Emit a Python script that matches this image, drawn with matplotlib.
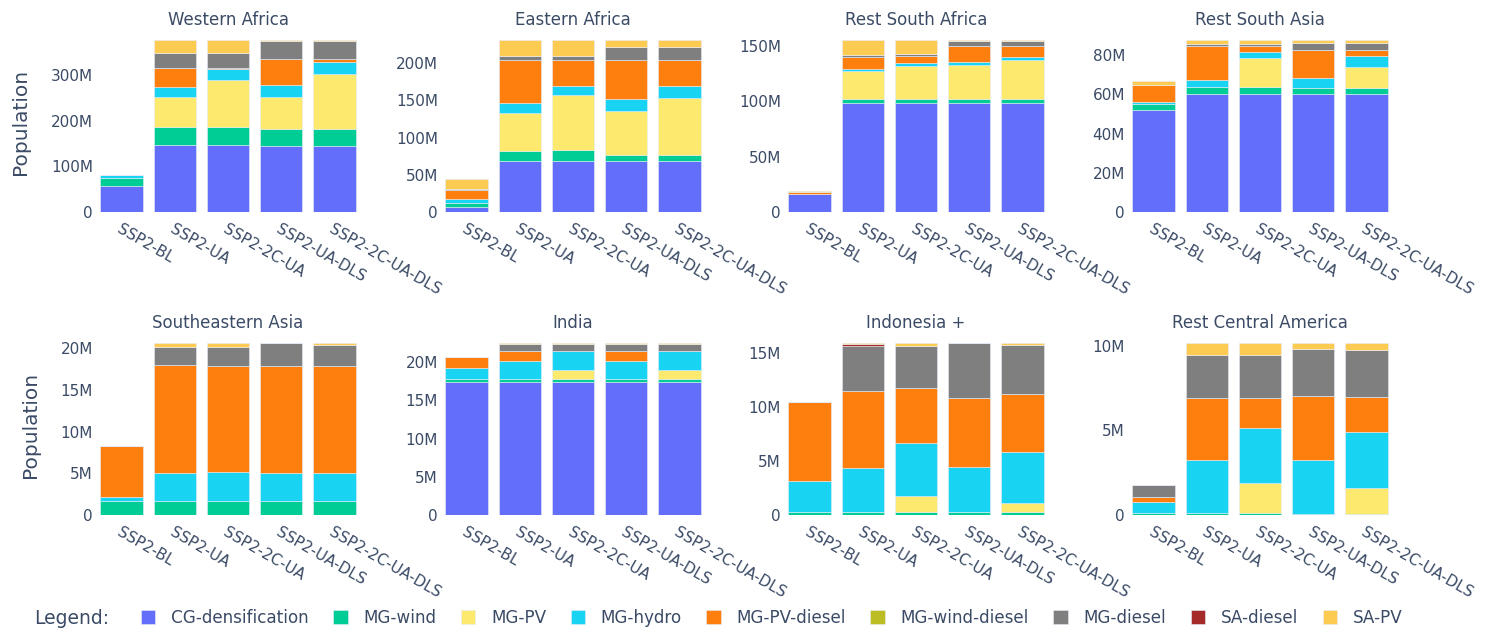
import matplotlib
matplotlib.use("Agg")
import matplotlib.pyplot as plt
from matplotlib.ticker import MultipleLocator, FuncFormatter
import numpy as np

plt.rcParams['font.family'] = ['DejaVu Sans']

scenarios = ["SSP2-BL", "SSP2-UA", "SSP2-2C-UA", "SSP2-UA-DLS", "SSP2-2C-UA-DLS"]
technologies = ["CG-densification", "MG-wind", "MG-PV", "MG-hydro", "MG-PV-diesel",
                "MG-wind-diesel", "MG-diesel", "SA-diesel", "SA-PV"]
colors = ["#636EFA", "#00CC96", "#FEE96F", "#19D3F3", "#FF7F0E",
          "#BCBD22", "#7F7F7F", "#A52A2A", "#FECB52"]

# population in millions, one row per technology, one column per scenario
western_africa = [
    [56, 146, 146, 145, 145],
    [19, 39, 39, 36, 36],
    [0, 67, 103, 71, 120],
    [6, 21, 24, 25, 26],
    [0, 43, 3, 58, 7],
    [0, 0, 0, 0, 0],
    [0, 32, 33, 40, 41],
    [0, 0, 0, 0, 0],
    [0, 29, 29, 2, 2],
]
eastern_africa = [
    [7, 68, 68, 68, 68],
    [4.5, 14, 15, 8.4, 8.4],
    [0.5, 51.5, 74, 59.3, 76.4],
    [5, 12.5, 12.5, 15.7, 16.6],
    [12.5, 58.5, 35, 53, 35],
    [0, 0, 0, 0, 0],
    [1.5, 4.5, 4.5, 17, 17],
    [0, 0, 0, 0, 0],
    [13, 22.5, 22.5, 10, 10],
]
rest_south_africa = [
    [16.7, 98.5, 98.5, 98.5, 98.5],
    [0, 3.9, 3.9, 3.9, 3.9],
    [0, 25.5, 30, 30.9, 35.5],
    [0, 1.8, 2.4, 2.4, 2.4],
    [1.3, 10.6, 6.7, 14.9, 9.7],
    [0, 0, 0, 0, 0],
    [0, 2.1, 1.5, 3.9, 4.5],
    [0, 0, 0, 0, 0],
    [1.0, 13.6, 13, 1.5, 1.5],
]
rest_south_asia = [
    [52.3, 60.4, 60.4, 60.4, 60.4],
    [3, 3.4, 3.4, 2.9, 2.9],
    [0, 0, 14.8, 0, 10.7],
    [0.8, 3.4, 3.1, 5.3, 5.5],
    [8.5, 17.6, 3.1, 13.9, 3.0],
    [0, 0, 0, 0, 0],
    [0.3, 1.2, 1.2, 4, 4],
    [0, 0, 0, 0, 0],
    [1.8, 2, 2, 1.5, 1.5],
]
southeastern_asia = [
    [0, 0, 0, 0, 0],
    [1.64, 1.64, 1.64, 1.64, 1.64],
    [0, 0, 0, 0, 0],
    [0.56, 3.44, 3.48, 3.36, 3.44],
    [6.08, 12.92, 12.76, 12.88, 12.8],
    [0, 0, 0, 0, 0],
    [0, 2.2, 2.24, 2.72, 2.52],
    [0, 0, 0, 0, 0],
    [0, 0.5, 0.56, 0, 0.28],
]
india = [
    [17.34, 17.34, 17.34, 17.34, 17.34],
    [0.43, 0.43, 0.43, 0.43, 0.43],
    [0, 0, 1.23, 0, 1.14],
    [1.43, 2.4, 2.5, 2.4, 2.5],
    [1.4, 1.3, 0, 1.3, 0],
    [0, 0, 0, 0, 0],
    [0, 0.87, 0.87, 0.87, 0.96],
    [0, 0, 0, 0, 0],
    [0, 0.17, 0.17, 0.17, 0.17],
]
indonesia = [
    [0, 0, 0, 0, 0],
    [0.31, 0.31, 0.31, 0.31, 0.31],
    [0, 0, 1.45, 0, 0.83],
    [2.84, 4.08, 4.89, 4.17, 4.74],
    [7.35, 7.11, 5.1, 6.41, 5.32],
    [0, 0, 0, 0, 0],
    [0, 4.18, 3.93, 5.04, 4.57],
    [0, 0.15, 0, 0, 0],
    [0, 0.1, 0.31, 0, 0.22],
]
rest_central_america = [
    [0, 0, 0, 0, 0],
    [0.1, 0.14, 0.14, 0.05, 0.05],
    [0, 0, 1.77, 0, 1.53],
    [0.69, 3.11, 3.26, 3.2, 3.35],
    [0.29, 3.65, 1.77, 3.79, 2.07],
    [0, 0, 0, 0, 0],
    [0.7, 2.57, 2.53, 2.76, 2.76],
    [0, 0, 0, 0, 0],
    [0, 0.73, 0.73, 0.4, 0.44],
]

regions = [
    ("Western Africa", western_africa, 100),
    ("Eastern Africa", eastern_africa, 50),
    ("Rest South Africa", rest_south_africa, 50),
    ("Rest South Asia", rest_south_asia, 20),
    ("Southeastern Asia", southeastern_asia, 5),
    ("India", india, 5),
    ("Indonesia +", indonesia, 5),
    ("Rest Central America", rest_central_america, 5),
]

TXT = "#3b4b66"
W, H = 1496, 633
fig = plt.figure(figsize=(W / 100, H / 100), dpi=100)

lefts = [95, 440, 783, 1127]
rows = [(31, 212), (334, 515)]
axw = 266

fmt = FuncFormatter(lambda v, p: "0" if v == 0 else f"{v:g}M")
x = np.arange(len(scenarios))
legend_handles = []

for i, (name, data, step) in enumerate(regions):
    r, c = divmod(i, 4)
    top, bot = rows[r]
    ax = fig.add_axes([lefts[c] / W, 1 - bot / H, axw / W, (bot - top) / H])
    vals = np.array(data, dtype=float)
    bottom = np.zeros(len(scenarios))
    for k, tech in enumerate(technologies):
        b = ax.bar(x, vals[k], 0.8, bottom=bottom, color=colors[k],
                   edgecolor="#E5ECF6", linewidth=0.4, label=tech)
        if i == 0:
            legend_handles.append(b)
        bottom += vals[k]
    ax.set_xlim(-0.5, len(scenarios) - 0.5)
    ax.set_ylim(0, bottom.max() * 1.05)
    ax.yaxis.set_major_locator(MultipleLocator(step))
    ax.yaxis.set_major_formatter(fmt)
    ax.set_xticks(x)
    ax.set_xticklabels(scenarios, rotation=-30, ha="left", va="top",
                       rotation_mode="anchor")
    ax.tick_params(axis="both", length=0, labelsize=11, labelcolor=TXT)
    ax.tick_params(axis="x", pad=7)
    ax.tick_params(axis="y", pad=1.5)
    for s in ax.spines.values():
        s.set_visible(False)
    ax.set_title(name, fontsize=12, color=TXT, pad=4)
    if c == 0:
        ax.set_ylabel("Population", fontsize=14.5, color=TXT, labelpad=15)

fig.text(34 / W, 1 - 618 / H, "Legend:", fontsize=13.5, color=TXT,
         ha="left", va="center")
fig.legend(legend_handles, technologies, loc="center left",
           bbox_to_anchor=(141 / W, 1 - 618 / H), ncol=9, frameon=False,
           fontsize=12.1, labelcolor=TXT, handlelength=0.85, handleheight=0.85,
           handletextpad=0.95, columnspacing=1.45, borderpad=0, borderaxespad=0)

fig.savefig("out.png", dpi=100, facecolor="white")
plt.close(fig)
